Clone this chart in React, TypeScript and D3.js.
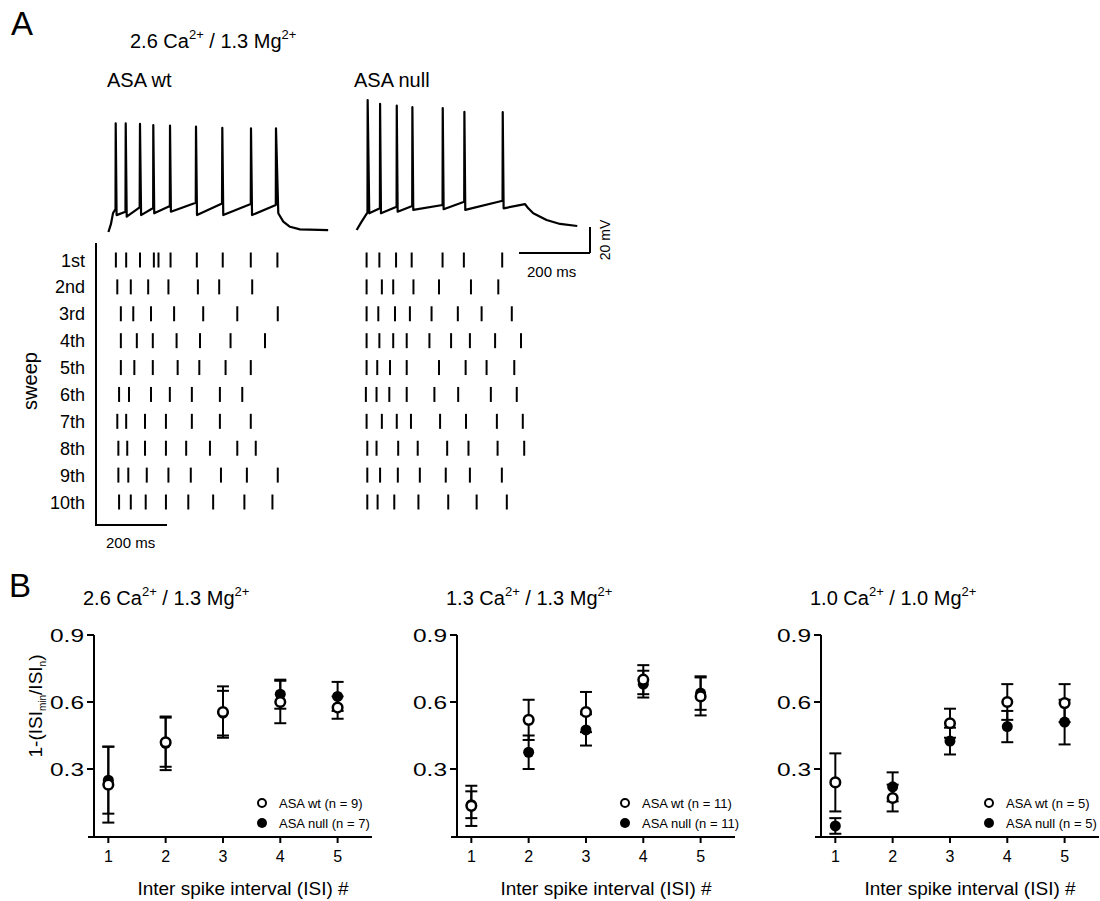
import React from "react";
import * as d3 from "d3";

const FONT = "'Liberation Sans', Arial, Helvetica, sans-serif";

// ---- Panel A: example voltage traces (ms from sweep origin, mV) ----
const wtTraceBase: [number, number][] = [
  [35, -70], [42, -64], [48, -55.5], [55, -52.3], [58, -57], [83, -54.4], [86.5, -58.2],
  [123, -51], [127, -57], [161, -51.5], [164, -55.6], [208, -50], [211, -54.4],
  [281, -47.5], [284.5, -57], [355, -48], [358.5, -57], [436, -48.5], [439.5, -57],
  [506.5, -49.2], [513.5, -55.6], [527.5, -62], [546.5, -66], [574.5, -68], [654, -68.5],
];
const wtSpikes: [number, number][] = [
  [55.5, 13.6], [83.7, 13.6], [123.9, 13.1], [161.4, 12.3], [208.5, 11.8],
  [281.7, 11], [355.8, 10.2], [436.6, 9.8], [507, 9.8],
];
const nullTraceBase: [number, number][] = [
  [30, -68.5], [44, -62], [58, -56], [60.5, -55], [65.5, -55.6], [95.5, -51.8], [98.5, -55.6],
  [142.5, -50.5], [145.5, -54.4], [186.5, -50], [189.5, -53], [272, -49.2], [275, -52.5],
  [333, -46.7], [336, -53], [441, -46], [444, -51.8], [504, -48.5], [513.5, -51.8],
  [527.5, -55.6], [565, -60.8], [603, -63.8], [651.5, -65.4],
];
const nullSpikes: [number, number][] = [
  [61, 31.5], [96, 28.5], [143, 27.2], [187, 26], [272.5, 25.3], [333.5, 22.4], [441.5, 22.2],
];

// ---- Panel A: raster of spike times per sweep (ms) ----
const sweepLabels = ["1st", "2nd", "3rd", "4th", "5th", "6th", "7th", "8th", "9th", "10th"];
const wtRaster: number[][] = [
  [56, 85, 124, 163, 176, 210, 284, 357, 436, 511],
  [60, 98, 147, 204, 287, 347, 440],
  [70, 105, 155, 220, 302, 398, 512],
  [70, 115, 160, 227, 293, 379, 476],
  [70, 108, 160, 230, 291, 365, 436],
  [65, 93, 155, 208, 270, 349, 412],
  [60, 85, 138, 197, 270, 349, 436],
  [63, 88, 138, 197, 254, 321, 398, 450],
  [63, 91, 143, 204, 267, 352, 425, 512],
  [65, 98, 140, 197, 260, 330, 418, 497],
];
const nullRaster: number[][] = [
  [58, 94, 141, 185, 272, 332, 440],
  [58, 101, 133, 190, 262, 352, 429],
  [58, 91, 138, 180, 241, 315, 382, 467],
  [58, 94, 133, 171, 235, 296, 349, 420, 493],
  [58, 88, 124, 171, 262, 337, 396, 474],
  [56, 86, 122, 171, 249, 316, 408, 481],
  [58, 101, 143, 183, 265, 338, 425, 498],
  [60, 86, 147, 202, 285, 345, 427, 502],
  [60, 96, 146, 208, 281, 349, 439],
  [60, 89, 136, 204, 288, 368, 453],
];

// ---- Panel B: 1-(ISImin/ISIn), mean and SEM ----
const isiNumber = [1, 2, 3, 4, 5];
const yTicks = [0.3, 0.6, 0.9];

const wtMean26 = [0.23, 0.42, 0.555, 0.6, 0.575];
const wtSem26 = [0.17, 0.11, 0.115, 0.095, 0.05];
const nullMean26 = [0.25, 0.415, 0.55, 0.635, 0.625];
const nullSem26 = [0.15, 0.12, 0.1, 0.065, 0.065];

const wtMean13 = [0.135, 0.52, 0.555, 0.7, 0.625];
const wtSem13 = [0.09, 0.09, 0.09, 0.065, 0.085];
const nullMean13 = [0.14, 0.375, 0.475, 0.68, 0.64];
const nullSem13 = [0.06, 0.075, 0.07, 0.06, 0.075];

const wtMean10 = [0.24, 0.17, 0.505, 0.6, 0.595];
const wtSem10 = [0.13, 0.06, 0.065, 0.08, 0.085];
const nullMean10 = [0.045, 0.22, 0.425, 0.49, 0.51];
const nullSem10 = [0.035, 0.065, 0.06, 0.07, 0.1];

const timeX = (origin: number) => d3.scaleLinear().domain([0, 200]).range([origin, origin + 71]);
const wtX = timeX(96);
const nullX = timeX(346);
const vY = d3.scaleLinear().domain([-70, -50]).range([232, 206]);
const rowY = d3.scalePoint<string>().domain(sweepLabels).range([260, 502]);

function tracePath(base: [number, number][], spikes: [number, number][], x: d3.ScaleLinear<number, number>) {
  const pts = [...base, ...spikes].sort((a, b) => a[0] - b[0]);
  return d3.line<[number, number]>().x((d) => x(d[0])).y((d) => vY(d[1]))(pts) || "";
}

const CaTitle = ({ x, y, ca, mg }: { x: number; y: number; ca: string; mg: string }) => (
  <text x={x} y={y} fontSize={20}>
    {ca} Ca
    <tspan dy={-9} fontSize={13}>2+</tspan>
    <tspan dy={9}> / {mg} Mg</tspan>
    <tspan dy={-9} fontSize={13}>2+</tspan>
  </text>
);

function Raster({ rows, x }: { rows: number[][]; x: d3.ScaleLinear<number, number> }) {
  return (
    <g stroke="#000" strokeWidth={2}>
      {rows.map((times, i) =>
        times.map((t, j) => {
          const cy = rowY(sweepLabels[i]) as number;
          return <line key={`${i}-${j}`} x1={x(t)} x2={x(t)} y1={cy - 7.5} y2={cy + 7.5} />;
        })
      )}
    </g>
  );
}

type PlotProps = {
  x0: number;
  ca: string;
  mg: string;
  wt: number[];
  wtSem: number[];
  nul: number[];
  nulSem: number[];
  nWt: number;
  nNull: number;
};

function IsiPlot({ x0, ca, mg, wt, wtSem, nul, nulSem, nWt, nNull }: PlotProps) {
  const x = d3.scaleLinear().domain([0.75, 5.6]).range([x0, x0 + 278]);
  const y = d3.scaleLinear().domain([0, 0.9]).range([836, 635]);
  const bar = (means: number[], sems: number[]) =>
    means.map((m, i) => {
      const cx = x(isiNumber[i]);
      return (
        <g key={i} stroke="#000" strokeWidth={2}>
          <line x1={cx} x2={cx} y1={y(m - sems[i])} y2={y(m + sems[i])} />
          <line x1={cx - 6} x2={cx + 6} y1={y(m + sems[i])} y2={y(m + sems[i])} />
          <line x1={cx - 6} x2={cx + 6} y1={y(m - sems[i])} y2={y(m - sems[i])} />
        </g>
      );
    });
  return (
    <g>
      <CaTitle x={x0 - 11} y={605} ca={ca} mg={mg} />
      {/* axes */}
      <g stroke="#000" strokeWidth={2}>
        <line x1={x0} x2={x0} y1={y(0)} y2={y(0.9)} />
        <line x1={x0 - 6} x2={x(5.6)} y1={y(0) + 1} y2={y(0) + 1} />
        {yTicks.map((t) => (
          <line key={t} x1={x0 - 7} x2={x0} y1={y(t)} y2={y(t)} />
        ))}
        {isiNumber.map((n) => (
          <line key={n} x1={x(n)} x2={x(n)} y1={y(0) + 1} y2={y(0) + 7} />
        ))}
      </g>
      {yTicks.map((t) => (
        <text key={t} x={x0 - 44} y={y(t) + 6.5} fontSize={18} textLength={34} lengthAdjust="spacingAndGlyphs">
          {t.toFixed(1)}
        </text>
      ))}
      {isiNumber.map((n) => (
        <text key={n} x={x(n)} y={862} fontSize={16} textAnchor="middle">
          {n}
        </text>
      ))}
      <text x={x0 + 149} y={895} fontSize={19} textAnchor="middle">
        Inter spike interval (ISI) #
      </text>
      {/* error bars then markers */}
      {bar(nul, nulSem)}
      {bar(wt, wtSem)}
      {nul.map((m, i) => (
        <circle key={`n${i}`} cx={x(isiNumber[i])} cy={y(m)} r={5.5} fill="#000" />
      ))}
      {wt.map((m, i) => (
        <circle key={`w${i}`} cx={x(isiNumber[i])} cy={y(m)} r={4.8} fill="#fff" stroke="#000" strokeWidth={2.5} />
      ))}
      {/* legend */}
      <circle cx={x0 + 168} cy={803} r={4} fill="#fff" stroke="#000" strokeWidth={2} />
      <circle cx={x0 + 168} cy={823} r={5} fill="#000" />
      <text x={x0 + 185} y={807.5} fontSize={13}>ASA wt (n = {nWt})</text>
      <text x={x0 + 185} y={827.5} fontSize={13}>ASA null (n = {nNull})</text>
    </g>
  );
}

export default function App() {
  const barEnd = 590;
  const barLen = nullX(200) - nullX(0);
  const mvLen = vY(-70) - vY(-50);
  return (
    <div style={{ position: "absolute", left: 0, top: 0 }}>
      <svg width={1100} height={901} style={{ display: "block", fontFamily: FONT }} fill="#000">
        <rect width={1100} height={901} fill="#fff" />
        {/* Panel A */}
        <text x={11} y={35} fontSize={33}>A</text>
        <CaTitle x={130} y={48} ca="2.6" mg="1.3" />
        <text x={107} y={87} fontSize={20}>ASA wt</text>
        <text x={354} y={87} fontSize={20}>ASA null</text>

        <path d={tracePath(wtTraceBase, wtSpikes, wtX)} fill="none" stroke="#000" strokeWidth={2.2} strokeLinejoin="round" />
        <path d={tracePath(nullTraceBase, nullSpikes, nullX)} fill="none" stroke="#000" strokeWidth={2.2} strokeLinejoin="round" />

        {/* trace scale bar */}
        <g stroke="#000" strokeWidth={2}>
          <line x1={barEnd - barLen} x2={barEnd} y1={253} y2={253} />
          <line x1={barEnd} x2={barEnd} y1={253} y2={253 - mvLen} />
        </g>
        <text x={527} y={277} fontSize={15}>200 ms</text>
        <text transform={`translate(610,240) rotate(-90)`} fontSize={14} textAnchor="middle">20 mV</text>

        {/* raster */}
        <text transform={`translate(37,381) rotate(-90)`} fontSize={20} textAnchor="middle">sweep</text>
        {sweepLabels.map((s) => (
          <text key={s} x={85} y={(rowY(s) as number) + 6.5} fontSize={18} textAnchor="end">
            {s}
          </text>
        ))}
        <g stroke="#000" strokeWidth={2} fill="none">
          <polyline points={`96,243 96,525 ${wtX(200)},525`} />
        </g>
        <text x={106} y={548} fontSize={15}>200 ms</text>
        <Raster rows={wtRaster} x={wtX} />
        <Raster rows={nullRaster} x={nullX} />

        {/* Panel B */}
        <text x={9} y={597} fontSize={33}>B</text>
        <text transform={`translate(42,706) rotate(-90)`} fontSize={19} textAnchor="middle">
          1-(ISI<tspan dy={4} fontSize={10}>min</tspan>
          <tspan dy={-4}>/ISI</tspan>
          <tspan dy={4} fontSize={10}>n</tspan>
          <tspan dy={-4}>)</tspan>
        </text>
        <IsiPlot x0={94} ca="2.6" mg="1.3" wt={wtMean26} wtSem={wtSem26} nul={nullMean26} nulSem={nullSem26} nWt={9} nNull={7} />
        <IsiPlot x0={457} ca="1.3" mg="1.3" wt={wtMean13} wtSem={wtSem13} nul={nullMean13} nulSem={nullSem13} nWt={11} nNull={11} />
        <IsiPlot x0={821} ca="1.0" mg="1.0" wt={wtMean10} wtSem={wtSem10} nul={nullMean10} nulSem={nullSem10} nWt={5} nNull={5} />
      </svg>
    </div>
  );
}
